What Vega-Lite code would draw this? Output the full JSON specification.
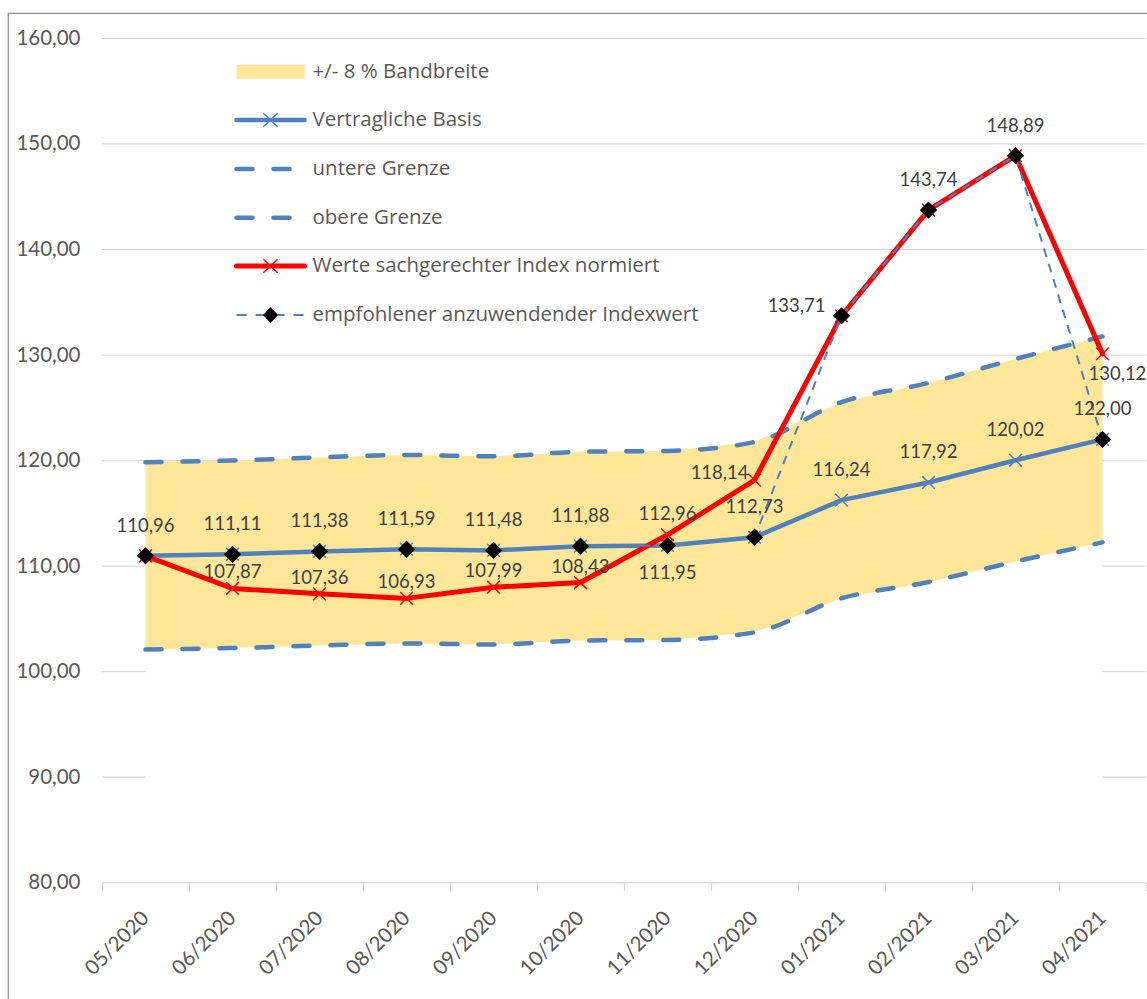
{
  "$schema": "https://vega.github.io/schema/vega-lite/v6.json",
  "width": 1152,
  "height": 997,
  "autosize": {"type": "none"},
  "padding": {"left": 8, "top": 13, "right": -13, "bottom": -11},
  "background": "white",
  "view": {"stroke": "#8C8C8C", "strokeWidth": 1.25, "fill": "white"},
  "config": {
    "locale": {"number": {"decimal": ",", "thousands": ".", "grouping": [3], "currency": ["", " €"]}},
    "font": "Lato",
    "text": {"font": "Lato", "fontSize": 18.5, "color": "#404040", "baseline": "middle"},
    "axis": {"labelFont": "Lato", "labelFontSize": 20.5, "labelColor": "#595959", "title": null},
    "legend": {"labelFont": "Open Sans", "labelFontSize": 20.5, "labelColor": "#595959", "labelLimit": 700, "padding": 0, "title": null, "orient": "none"}
  },
  "datasets": {
    "main": [
      {"m": "05/2020", "basis": 110.96, "unten": 102.08, "oben": 119.84, "werte": 110.96, "empf": 110.96},
      {"m": "06/2020", "basis": 111.11, "unten": 102.22, "oben": 120.00, "werte": 107.87, "empf": 111.11},
      {"m": "07/2020", "basis": 111.38, "unten": 102.47, "oben": 120.29, "werte": 107.36, "empf": 111.38},
      {"m": "08/2020", "basis": 111.59, "unten": 102.66, "oben": 120.52, "werte": 106.93, "empf": 111.59},
      {"m": "09/2020", "basis": 111.48, "unten": 102.56, "oben": 120.40, "werte": 107.99, "empf": 111.48},
      {"m": "10/2020", "basis": 111.88, "unten": 102.93, "oben": 120.83, "werte": 108.43, "empf": 111.88},
      {"m": "11/2020", "basis": 111.95, "unten": 102.99, "oben": 120.91, "werte": 112.96, "empf": 111.95},
      {"m": "12/2020", "basis": 112.73, "unten": 103.71, "oben": 121.75, "werte": 118.14, "empf": 112.73},
      {"m": "01/2021", "basis": 116.24, "unten": 106.94, "oben": 125.54, "werte": 133.71, "empf": 133.71},
      {"m": "02/2021", "basis": 117.92, "unten": 108.49, "oben": 127.35, "werte": 143.74, "empf": 143.74},
      {"m": "03/2021", "basis": 120.02, "unten": 110.42, "oben": 129.62, "werte": 148.89, "empf": 148.89},
      {"m": "04/2021", "basis": 122.00, "unten": 112.24, "oben": 131.76, "werte": 130.12, "empf": 122.00}
    ],
    "grid": [{"v": 80}, {"v": 90}, {"v": 100}, {"v": 110}, {"v": 120}, {"v": 130}, {"v": 140}, {"v": 150}, {"v": 160}]
  },
  "data": {"name": "main"},
  "resolve": {
    "scale": {"stroke": "independent", "fill": "independent"},
    "legend": {"stroke": "independent", "fill": "independent"}
  },
  "layer": [
    {
      "data": {"name": "grid"},
      "mark": {"type": "rule", "color": "#D9D9D9", "strokeWidth": 1.25},
      "encoding": {
        "y": {"field": "v", "type": "quantitative", "title": null,
          "scale": {"domain": [67.915, 162.417], "nice": false, "zero": false},
          "axis": {"title": null, "values": [80, 90, 100, 110, 120, 130, 140, 150, 160], "format": ".2f", "offset": -94, "domain": false, "ticks": false, "tickSize": 0, "grid": false, "labelPadding": 22}},
        "x": {"datum": "05/2020", "type": "ordinal", "bandPosition": 0},
        "x2": {"datum": "04/2021", "bandPosition": 1}
      }
    },
    {
      "mark": {"type": "area", "color": "white"},
      "encoding": {
        "x": {"field": "m", "type": "ordinal", "title": null,
          "scale": {"type": "band", "domain": ["05/2020", "06/2020", "07/2020", "08/2020", "09/2020", "10/2020", "11/2020", "12/2020", "01/2021", "02/2021", "03/2021", "04/2021"], "paddingInner": 0, "paddingOuter": 0.6206897, "align": 0.87037, "round": false},
          "axis": {"title": null, "offset": -127.5, "domain": false, "grid": false, "ticks": true, "tickBand": "extent", "tickColor": "#D9D9D9", "tickWidth": 1.25, "tickSize": 8, "labelAngle": -45, "labelAlign": "right", "labelBaseline": "middle", "labelPadding": 24, "labelOverlap": false, "labelBound": false}},
        "y": {"field": "unten", "type": "quantitative", "title": null},
        "y2": {"datum": 80}
      }
    },
    {
      "mark": {"type": "area"},
      "encoding": {
        "x": {"field": "m", "type": "ordinal", "title": null},
        "y": {"field": "oben", "type": "quantitative", "title": null},
        "y2": {"field": "unten"},
        "fill": {"datum": "+/- 8 % Bandbreite", "scale": {"range": ["#FFE699"]},
          "legend": {"title": null, "orient": "none", "legendX": 228.5, "legendY": 24.7, "padding": 0, "symbolType": "M-1,-0.206H1V0.206H-1Z", "symbolSize": 4624, "symbolStrokeWidth": 0, "symbolStrokeColor": "transparent", "labelOffset": 8}}
      }
    },
    {
      "data": {"name": "grid"},
      "transform": [{"filter": "datum.v == 80"}],
      "mark": {"type": "rule", "color": "#D9D9D9", "strokeWidth": 1.25},
      "encoding": {
        "y": {"field": "v", "type": "quantitative", "title": null},
        "x": {"datum": "05/2020", "type": "ordinal", "bandPosition": 0},
        "x2": {"datum": "04/2021", "bandPosition": 1}
      }
    },
    {
      "mark": {"type": "line", "strokeWidth": 4.5, "strokeDash": [16, 21], "strokeCap": "round", "interpolate": "monotone"},
      "encoding": {
        "x": {"field": "m", "type": "ordinal", "title": null},
        "y": {"field": "unten", "type": "quantitative", "title": null},
        "stroke": {"datum": "untere Grenze", "scale": {"range": ["#4F81BD"]},
          "legend": {"title": null, "orient": "none", "legendX": 226, "legendY": 119.5, "padding": 0, "symbolType": "M-1,0H1", "symbolSize": 4624, "symbolStrokeWidth": 4.5, "symbolDash": [16, 21], "labelOffset": 5.5, "encode": {"symbols": {"update": {"strokeCap": {"value": "round"}}}}}}
      }
    },
    {
      "mark": {"type": "line", "strokeWidth": 4.5, "strokeDash": [16, 21], "strokeCap": "round", "interpolate": "monotone"},
      "encoding": {
        "x": {"field": "m", "type": "ordinal", "title": null},
        "y": {"field": "oben", "type": "quantitative", "title": null},
        "stroke": {"datum": "obere Grenze", "scale": {"range": ["#4F81BD"]},
          "legend": {"title": null, "orient": "none", "legendX": 226, "legendY": 168.2, "padding": 0, "symbolType": "M-1,0H1", "symbolSize": 4624, "symbolStrokeWidth": 4.5, "symbolDash": [16, 21], "labelOffset": 5.5, "encode": {"symbols": {"update": {"strokeCap": {"value": "round"}}}}}}
      }
    },
    {
      "mark": {"type": "line", "strokeWidth": 4.5, "strokeCap": "round", "strokeJoin": "round"},
      "encoding": {
        "x": {"field": "m", "type": "ordinal", "title": null},
        "y": {"field": "basis", "type": "quantitative", "title": null},
        "stroke": {"datum": "Vertragliche Basis", "scale": {"range": ["#4F81BD"]},
          "legend": {"title": null, "orient": "none", "legendX": 226, "legendY": 70.5, "padding": 0, "symbolType": "M-1,0H1", "symbolSize": 4624, "symbolStrokeWidth": 4.5, "labelOffset": 5.5, "encode": {"symbols": {"update": {"strokeCap": {"value": "round"}}}}}}
      }
    },
    {
      "mark": {"type": "point", "shape": "M-1,-1L1,1M-1,1L1,-1", "size": 160, "filled": false, "strokeWidth": 1.5, "opacity": 1},
      "encoding": {
        "x": {"field": "m", "type": "ordinal", "title": null},
        "y": {"field": "basis", "type": "quantitative", "title": null},
        "stroke": {"datum": "Vertragliche Basis ", "scale": {"range": ["#4F81BD"]},
          "legend": {"title": null, "orient": "none", "legendX": 227.5, "legendY": 72, "padding": 0, "symbolType": "M-0.21,-0.2L0.21,0.2M-0.21,0.2L0.21,-0.2", "symbolSize": 4624, "symbolStrokeWidth": 1.5, "symbolOpacity": 1, "labelExpr": "''"}}
      }
    },
    {
      "mark": {"type": "line", "strokeWidth": 5, "strokeCap": "round", "strokeJoin": "round"},
      "encoding": {
        "x": {"field": "m", "type": "ordinal", "title": null},
        "y": {"field": "werte", "type": "quantitative", "title": null},
        "stroke": {"datum": "Werte sachgerechter Index normiert", "scale": {"range": ["#FF0000"]},
          "legend": {"title": null, "orient": "none", "legendX": 226, "legendY": 216.5, "padding": 0, "symbolType": "M-1,0H1", "symbolSize": 4624, "symbolStrokeWidth": 5, "labelOffset": 5.5, "encode": {"symbols": {"update": {"strokeCap": {"value": "round"}}}}}}
      }
    },
    {
      "mark": {"type": "point", "shape": "M-1,-1L1,1M-1,1L1,-1", "size": 160, "filled": false, "strokeWidth": 1.5, "opacity": 1},
      "encoding": {
        "x": {"field": "m", "type": "ordinal", "title": null},
        "y": {"field": "werte", "type": "quantitative", "title": null},
        "stroke": {"datum": "Werte sachgerechter Index normiert ", "scale": {"range": ["#FF0000"]},
          "legend": {"title": null, "orient": "none", "legendX": 227.5, "legendY": 218, "padding": 0, "symbolType": "M-0.21,-0.2L0.21,0.2M-0.21,0.2L0.21,-0.2", "symbolSize": 4624, "symbolStrokeWidth": 1.5, "symbolOpacity": 1, "labelExpr": "''"}}
      }
    },
    {
      "mark": {"type": "line", "strokeWidth": 2, "strokeDash": [9, 7]},
      "encoding": {
        "x": {"field": "m", "type": "ordinal", "title": null},
        "y": {"field": "empf", "type": "quantitative", "title": null},
        "stroke": {"datum": "empfohlener anzuwendender Indexwert", "scale": {"range": ["#4F81BD"]},
          "legend": {"title": null, "orient": "none", "legendX": 227.5, "legendY": 267, "padding": 0, "symbolType": "M-1,0H1", "symbolSize": 4624, "symbolStrokeWidth": 2, "symbolDash": [10, 9], "labelOffset": 7}}
      }
    },
    {
      "mark": {"type": "point", "shape": "diamond", "size": 300, "filled": true, "strokeWidth": 0, "opacity": 1},
      "encoding": {
        "x": {"field": "m", "type": "ordinal", "title": null},
        "y": {"field": "empf", "type": "quantitative", "title": null},
        "fill": {"datum": "empfohlener anzuwendender Indexwert ", "scale": {"range": ["#000000"]},
          "legend": {"title": null, "orient": "none", "legendX": 228.5, "legendY": 268, "padding": 0, "symbolType": "M-0.22,0L0,-0.235L0.22,0L0,0.235Z", "symbolSize": 4624, "symbolStrokeWidth": 0, "symbolStrokeColor": "transparent", "symbolOpacity": 1, "labelExpr": "''"}}
      }
    },
    {
      "transform": [{"filter": {"not": {"field": "m", "oneOf": ["11/2020", "01/2021"]}}}],
      "mark": {"type": "text", "dy": -30},
      "encoding": {
        "x": {"field": "m", "type": "ordinal", "title": null},
        "y": {"field": "empf", "type": "quantitative", "title": null},
        "text": {"field": "empf", "type": "quantitative", "format": ".2f"}
      }
    },
    {
      "transform": [{"filter": {"field": "m", "equal": "11/2020"}}],
      "mark": {"type": "text", "dy": 28},
      "encoding": {
        "x": {"field": "m", "type": "ordinal", "title": null},
        "y": {"field": "empf", "type": "quantitative", "title": null},
        "text": {"field": "empf", "type": "quantitative", "format": ".2f"}
      }
    },
    {
      "transform": [{"filter": {"field": "m", "equal": "01/2021"}}],
      "mark": {"type": "text", "align": "right", "dx": -16, "dy": -10},
      "encoding": {
        "x": {"field": "m", "type": "ordinal", "title": null},
        "y": {"field": "empf", "type": "quantitative", "title": null},
        "text": {"field": "empf", "type": "quantitative", "format": ".2f"}
      }
    },
    {
      "transform": [{"filter": {"field": "m", "oneOf": ["01/2021", "02/2021", "03/2021"]}}],
      "mark": {"type": "text", "dy": -30},
      "encoding": {
        "x": {"field": "m", "type": "ordinal", "title": null},
        "y": {"field": "basis", "type": "quantitative", "title": null},
        "text": {"field": "basis", "type": "quantitative", "format": ".2f"}
      }
    },
    {
      "transform": [{"filter": {"field": "m", "oneOf": ["06/2020", "07/2020", "08/2020", "09/2020", "10/2020"]}}],
      "mark": {"type": "text", "dy": -16},
      "encoding": {
        "x": {"field": "m", "type": "ordinal", "title": null},
        "y": {"field": "werte", "type": "quantitative", "title": null},
        "text": {"field": "werte", "type": "quantitative", "format": ".2f"}
      }
    },
    {
      "transform": [{"filter": {"field": "m", "equal": "11/2020"}}],
      "mark": {"type": "text", "dy": -21},
      "encoding": {
        "x": {"field": "m", "type": "ordinal", "title": null},
        "y": {"field": "werte", "type": "quantitative", "title": null},
        "text": {"field": "werte", "type": "quantitative", "format": ".2f"}
      }
    },
    {
      "transform": [{"filter": {"field": "m", "equal": "12/2020"}}],
      "mark": {"type": "text", "align": "right", "dx": -6, "dy": -7},
      "encoding": {
        "x": {"field": "m", "type": "ordinal", "title": null},
        "y": {"field": "werte", "type": "quantitative", "title": null},
        "text": {"field": "werte", "type": "quantitative", "format": ".2f"}
      }
    },
    {
      "transform": [{"filter": {"field": "m", "equal": "04/2021"}}],
      "mark": {"type": "text", "align": "left", "dx": -14, "dy": 20},
      "encoding": {
        "x": {"field": "m", "type": "ordinal", "title": null},
        "y": {"field": "werte", "type": "quantitative", "title": null},
        "text": {"field": "werte", "type": "quantitative", "format": ".2f"}
      }
    }
  ]
}
